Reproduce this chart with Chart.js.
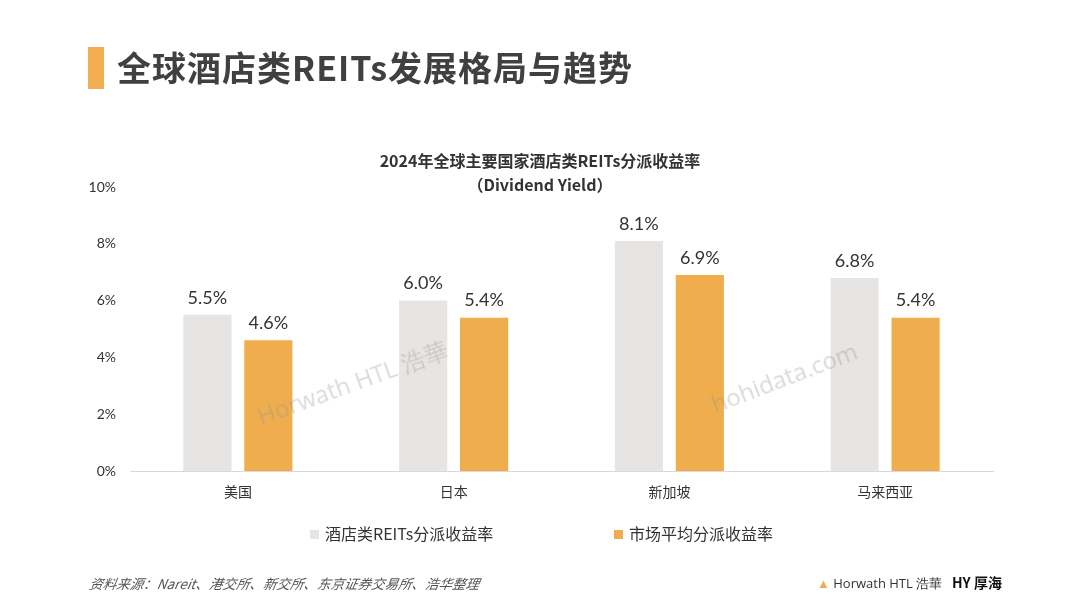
<!DOCTYPE html>
<html>
<head>
<meta charset="utf-8">
<script src="https://cdn.jsdelivr.net/npm/chart.js@4"></script>
<style>
  html, body { margin:0; padding:0; background:#fff; }
  body { width:1080px; height:607px; position:relative; overflow:hidden;
         font-family: Lato, "Noto Sans CJK SC", sans-serif; color:#3a3a3a; }
  #wrap { position:absolute; left:0; top:0; width:1080px; height:607px; }
  .abs { position:absolute; white-space:nowrap; }
  #bar { left:88px; top:47px; width:16px; height:42px; background:#f2ad52; }
  #pageTitle { left:117px; top:43px; font-family:"Noto Sans CJK SC", sans-serif; font-weight:700;
               font-size:34px; line-height:48px; color:#404040; letter-spacing:1px; }
  #chartTitle { left:0; width:1080px; top:148px; text-align:center; font-family:"Noto Sans CJK SC", sans-serif;
                font-weight:700; font-size:16px; line-height:24px; color:#333; }
  .leg { top:521px; font-family:"Noto Sans CJK SC", sans-serif; font-size:16px; line-height:24px; color:#333; }
  .sq { display:inline-block; width:9px; height:9px; margin-right:6px; vertical-align:1px; }
  #source { left:88px; top:573px; font-family:"Noto Sans CJK SC", sans-serif; font-style:italic; font-size:13.5px;
            line-height:20px; color:#555; transform:skewX(-10deg); transform-origin:left bottom; }
  .wm { color:rgba(150,150,150,0.35); font-family:"Open Sans", sans-serif; font-size:24px; transform-origin:left center; }
  #logo1 { left:817px; top:573px; font-family:"Open Sans", sans-serif; font-size:13px; line-height:20px; color:#333; }
  #logo2 { left:952px; top:573px; font-family:"Noto Sans CJK SC", sans-serif; font-size:14px; line-height:18px; color:#111; font-weight:700; }
</style>
</head>
<body>
<div id="wrap"><canvas id="c" width="1080" height="607"></canvas></div>
<div class="abs" id="bar"></div>
<div class="abs" id="pageTitle">全球酒店类REITs发展格局与趋势</div>
<div class="abs" id="chartTitle">2024年全球主要国家酒店类REITs分派收益率<br>（Dividend Yield）</div>
<div class="abs leg" style="left:310px;"><span class="sq" style="background:#e6e5e3"></span>酒店类REITs分派收益率</div>
<div class="abs leg" style="left:614px;"><span class="sq" style="background:#f0ad4e"></span>市场平均分派收益率</div>
<div class="abs wm" style="left:258px; top:400px; transform:rotate(-20deg);">Horwath HTL 浩華</div>
<div class="abs wm" style="left:712px; top:388px; transform:rotate(-21deg);">hohidata.com</div>
<div class="abs" id="source">资料来源：Nareit、港交所、新交所、东京证券交易所、浩华整理</div>
<div class="abs" id="logo1"><span style="color:#f0ad4e">▲</span> Horwath HTL 浩華</div>
<div class="abs" id="logo2">HY 厚海</div>
<script>
const categories = ['美国', '日本', '新加坡', '马来西亚'];
const hotelReitYield = [5.5, 6.0, 8.1, 6.8];
const marketAvgYield = [4.6, 5.4, 6.9, 5.4];
const seriesNames = ['酒店类REITs分派收益率', '市场平均分派收益率'];
const yTicks = [0, 2, 4, 6, 8, 10];

const valueLabels = {
  id: 'valueLabels',
  afterDatasetsDraw(chart) {
    const ctx = chart.ctx;
    ctx.save();
    ctx.font = '18px Lato, sans-serif';
    ctx.fillStyle = '#333';
    ctx.textAlign = 'center';
    ctx.textBaseline = 'bottom';
    chart.data.datasets.forEach((ds, i) => {
      chart.getDatasetMeta(i).data.forEach((el, j) => {
        ctx.fillText(ds.data[j].toFixed(1) + '%', el.x, el.y - 8);
      });
    });
    ctx.restore();
  }
};

new Chart(document.getElementById('c'), {
  type: 'bar',
  data: {
    labels: categories,
    datasets: [
      { label: seriesNames[0], data: hotelReitYield, backgroundColor: '#e6e5e3',
        barPercentage: 0.79, categoryPercentage: 0.565 },
      { label: seriesNames[1], data: marketAvgYield, backgroundColor: '#f0ad4e',
        barPercentage: 0.79, categoryPercentage: 0.565 }
    ]
  },
  options: {
    responsive: false,
    animation: false,
    layout: { padding: { left: 60, right: 87, top: 187, bottom: 106 } },
    plugins: { legend: { display: false }, title: { display: false }, tooltip: { enabled: false } },
    scales: {
      x: {
        grid: { display: false, drawTicks: false },
        border: { display: true, color: '#d9d9d9', width: 1 },
        ticks: { color: '#333', font: { family: '"Noto Sans CJK SC", sans-serif', size: 14 }, padding: 12 },
        afterFit(s) { s.height = 30; }
      },
      y: {
        min: 0, max: 10,
        afterBuildTicks(s) { s.ticks = yTicks.map(v => ({ value: v })); },
        grid: { display: false, drawTicks: false },
        border: { display: false },
        ticks: { color: '#333', font: { family: 'Lato, sans-serif', size: 14 }, padding: 14,
                 callback: v => v + '%' },
        afterFit(s) { s.width = 70; }
      }
    }
  },
  plugins: [valueLabels]
});
</script>
</body>
</html>
